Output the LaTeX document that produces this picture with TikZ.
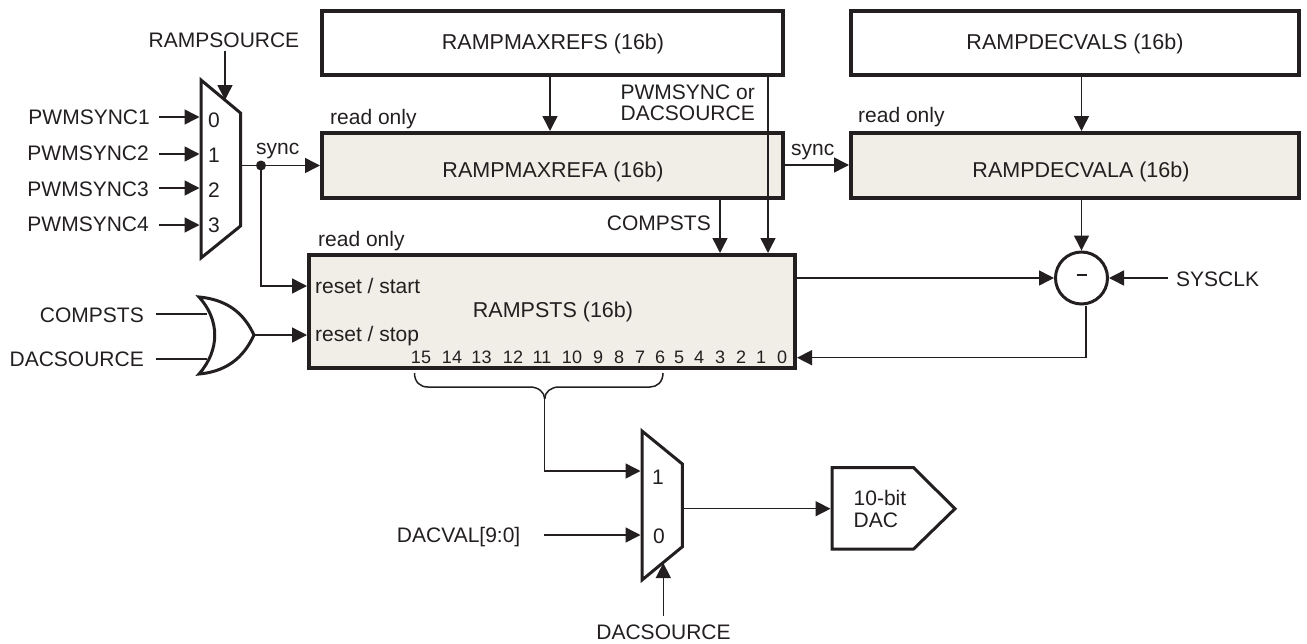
\documentclass[tikz,border=0pt]{standalone}
\usepackage{fontspec}
\setmainfont{Liberation Sans}
\usetikzlibrary{arrows.meta}
\definecolor{ink}{HTML}{231F20}
\definecolor{boxfill}{HTML}{F0EEE6}
\tikzset{
  wire/.style={draw=ink,line width=1.5pt},
  arrowwire/.style={wire,-{Triangle[length=15pt,width=15pt]}},
  shapeline/.style={draw=ink,line width=3pt,line join=miter,fill=white},
  regbox/.style={draw=ink,line width=4pt,inner sep=0pt,anchor=north west,align=center},
  plainreg/.style={regbox,fill=white},
  greyreg/.style={regbox,fill=boxfill},
  lbl/.style={text=ink,font=\fontsize{21}{24}\selectfont,inner sep=0pt,text height=15pt,text depth=0pt},
  regtext/.style={text=ink,font=\fontsize{21.5}{24}\selectfont,inner sep=0pt,text height=15pt,text depth=0pt},
  bitnum/.style={text=ink,font=\fontsize{18}{20}\selectfont,inner sep=0pt,text height=13pt,text depth=0pt}
}
\begin{document}
\begin{tikzpicture}[x=1pt,y=-1pt]
\useasboundingbox (0,0) rectangle (1307,643);
% registers
\node[plainreg,minimum width=461pt,minimum height=64pt] (maxrefs) at (320,9) {};
\node[plainreg,minimum width=448pt,minimum height=64pt] (decvals) at (849,9) {};
\node[greyreg,minimum width=461pt,minimum height=65pt] (maxrefa) at (320,131) {};
\node[greyreg,minimum width=448pt,minimum height=65pt] (decvala) at (849,131) {};
\node[greyreg,minimum width=486pt,minimum height=113pt] (rampsts) at (307,253) {};
\node[regtext] (tmaxrefs) at (553,42) {RAMPMAXREFS (16b)};
\node[regtext] (tdecvals) at (1075,42) {RAMPDECVALS (16b)};
\node[regtext] (tmaxrefa) at (553,170) {RAMPMAXREFA (16b)};
\node[regtext] (tdecvala) at (1081,170) {RAMPDECVALA (16b)};
\node[regtext] (tsts) at (553,310) {RAMPSTS (16b)};
% mux 1
\draw[shapeline] (201,80) -- (240.5,113) -- (240.5,226) -- (201,258) -- cycle;
\node[lbl] (m0) at (214,120) {0};
\node[lbl] (m1) at (214,155) {1};
\node[lbl] (m2) at (214,190) {2};
\node[lbl] (m3) at (214,225) {3};
\coordinate (muxa0) at (199.5,117);
\coordinate (muxa1) at (199.5,154);
\coordinate (muxa2) at (199.5,188);
\coordinate (muxa3) at (199.5,225);
\coordinate (muxasel) at (225,100);
\coordinate (muxaout) at (240.5,165.5);
\node[lbl,anchor=east] (p1) at (150,117) {PWMSYNC1};
\node[lbl,anchor=east] (p2) at (149,153) {PWMSYNC2};
\node[lbl,anchor=east] (p3) at (149,189) {PWMSYNC3};
\node[lbl,anchor=east] (p4) at (149,224) {PWMSYNC4};
\node[lbl] (rsrc) at (224,40) {RAMPSOURCE};
\coordinate (p1s) at (159,117);
\coordinate (p2s) at (159,154);
\coordinate (p3s) at (159,188);
\coordinate (p4s) at (159,225);
\coordinate (rsrcs) at (225,51);
\draw[arrowwire] (p1s) -- (muxa0);
\draw[arrowwire] (p2s) -- (muxa1);
\draw[arrowwire] (p3s) -- (muxa2);
\draw[arrowwire] (p4s) -- (muxa3);
\draw[arrowwire] (rsrcs) -- (muxasel);
% sync
\coordinate (syncdot) at (261,165.5);
\draw[arrowwire] (muxaout) -- (maxrefa.west |- muxaout);
\draw[arrowwire] (syncdot) |- (rampsts.west |- 0,286);
\fill[ink] (syncdot) circle (5pt);
\node[lbl,anchor=west] (sync1) at (256,147) {sync};
\node[lbl,anchor=west] (sync2) at (791,148) {sync};
\draw[arrowwire] (maxrefa.east |- 0,165) -- (decvala.west |- 0,165);
% read only
\node[lbl,anchor=west] (ro1) at (330,117) {read only};
\node[lbl,anchor=west] (ro2) at (858,115) {read only};
\node[lbl,anchor=west] (ro3) at (318,239) {read only};
% reg arrows
\draw[arrowwire] (maxrefs.south -| 550,0) -- (maxrefa.north -| 550,0);
\draw[arrowwire] (decvals.south -| 1081.5,0) -- (decvala.north -| 1081.5,0);
\draw[arrowwire] (maxrefa.south -| 720,0) -- (rampsts.north -| 720,0);
\draw[arrowwire] (maxrefs.south -| 768,0) -- (rampsts.north -| 768,0);
\node[lbl,anchor=east] (pwmor) at (755,92) {PWMSYNC or};
\node[lbl,anchor=east] (dacsrc) at (755,113) {DACSOURCE};
\node[lbl,anchor=east] (comp1) at (711,223) {COMPSTS};
% circle
\node[draw=ink,line width=3pt,fill=white,circle,minimum size=52pt,inner sep=0pt,text=ink,font=\fontsize{21}{24}\selectfont] (sub) at (1081.5,278) {\rule[6pt]{10pt}{1.8pt}};
\draw[arrowwire] (decvala.south -| sub.north) -- (sub.north);
\draw[arrowwire] (rampsts.east |- sub.west) -- (sub.west);
\node[lbl,anchor=west] (sysclk) at (1176,279) {SYSCLK};
\coordinate (sysclks) at (1168,278);
\draw[arrowwire] (sysclks) -- (sub.east);
\coordinate (fb) at (1086,357.7);
\draw[arrowwire] (sub.south -| fb) -- (fb) -- (rampsts.east |- fb);
% RAMPSTS inner labels
\node[lbl,anchor=west] (rstart) at (315,286) {reset / start};
\node[lbl,anchor=west] (rstop) at (315,334) {reset / stop};
\foreach \xp/\v in {421/15,452/14,481.5/13,513/12,542/11,572/10,598/9,619/8,640/7,660/6,679/5,699/4,720/3,741/2,761/1,782/0}
  \node[bitnum] (bit\v) at (\xp,357) {\v};
% OR gate
\coordinate (ora) at (207,314);
\coordinate (orb) at (207,359);
\coordinate (orout) at (254,335);
\node[lbl,anchor=east] (comp2) at (144,315) {COMPSTS};
\node[lbl,anchor=east] (dac2) at (144,359) {DACSOURCE};
\draw[wire] (156,314) coordinate (comps) -- (ora);
\draw[wire] (156,359) coordinate (dacs) -- (orb);
\draw[shapeline,fill=white] (199,297) .. controls (232,300) and (246,318) .. (orout) .. controls (246,352) and (232,371) .. (199,374) .. controls (220,350) and (220,320) .. (199,297) -- cycle;
\draw[arrowwire] (orout) -- (rampsts.west |- orout);
% brace
\coordinate (bl) at (414.5,373);
\coordinate (br) at (663,373);
\coordinate (bm) at (544.7,399);
\draw[wire] (bl) .. controls (414.5,382) and (420,387) .. (428,387) -- (530,387) .. controls (538,387) and (544.7,392) .. (bm);
\draw[wire] (br) .. controls (663,382) and (657,387) .. (650,387) -- (559,387) .. controls (551,387) and (544.7,392) .. (bm);
% mux 2
\draw[shapeline] (642,431) -- (682.4,464) -- (682.4,546.7) -- (642,580) -- cycle;
\coordinate (muxb1) at (640.5,471);
\coordinate (muxb0) at (640.5,535);
\coordinate (muxbsel) at (663.3,563);
\coordinate (muxbout) at (682.4,508.7);
\draw[arrowwire] (bm) |- (muxb1);
\node[lbl] (mb1) at (658,477) {1};
\node[lbl] (mb0) at (659,536) {0};
\node[lbl,anchor=east] (dval) at (520.5,535) {DACVAL[9:0]};
\coordinate (dvals) at (544,535);
\draw[arrowwire] (dvals) -- (muxb0);
\node[lbl] (dsrc) at (663.5,632) {DACSOURCE};
\coordinate (dsrcs) at (663.3,616);
\draw[arrowwire] (dsrcs) -- (muxbsel);
% DAC
\draw[shapeline] (832,467.7) -- (913.6,467.7) -- (955,508.7) -- (913.6,549) -- (832,549) -- cycle;
\coordinate (dacin) at (830.5,508.7);
\draw[arrowwire] (muxbout) -- (dacin);
\node[lbl,anchor=west] (d10) at (853.5,498) {10-bit};
\node[lbl,anchor=west] (ddac) at (853.5,520) {DAC};
\end{tikzpicture}
\end{document}
